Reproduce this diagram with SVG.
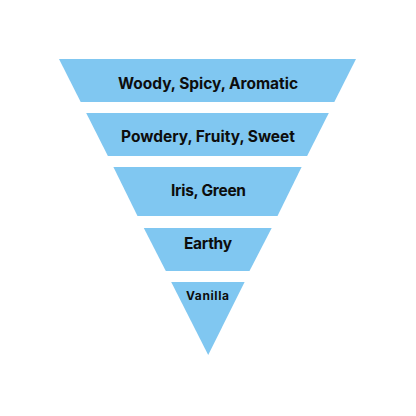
<svg xmlns="http://www.w3.org/2000/svg" width="416" height="416" viewBox="0 0 416 416">
<style>
.band{fill:#80C7F1;}
.lbl{font-family:Inter,"Open Sans","Liberation Sans",sans-serif;font-weight:700;font-size:15.5px;fill:#0d0d0d;text-anchor:middle;}
.sm{font-size:12px;}
</style>
<rect width="416" height="416" fill="#ffffff"/>
<g id="level1"><polygon class="band" points="59,59 356,59 334.3,102 80.7,102"/><text class="lbl" x="208" y="89" textLength="180">Woody, Spicy, Aromatic</text></g>
<g id="level2"><polygon class="band" points="86.2,113 328.8,113 307.1,156 107.9,156"/><text class="lbl" x="208" y="142.3" textLength="174">Powdery, Fruity, Sweet</text></g>
<g id="level3"><polygon class="band" points="113.4,167 301.6,167 277.5,216 137.5,216"/><text class="lbl" x="208.5" y="195.7" textLength="75">Iris, Green</text></g>
<g id="level4"><polygon class="band" points="143.8,228 271.7,228 249.5,271 165.8,271"/><text class="lbl" x="208" y="249" textLength="48">Earthy</text></g>
<g id="level5"><polygon class="band" points="171.2,282 244.6,282 208.2,355"/><text class="lbl sm" x="207.5" y="300.3" textLength="43">Vanilla</text></g>
<g id="connectors"/>
</svg>
